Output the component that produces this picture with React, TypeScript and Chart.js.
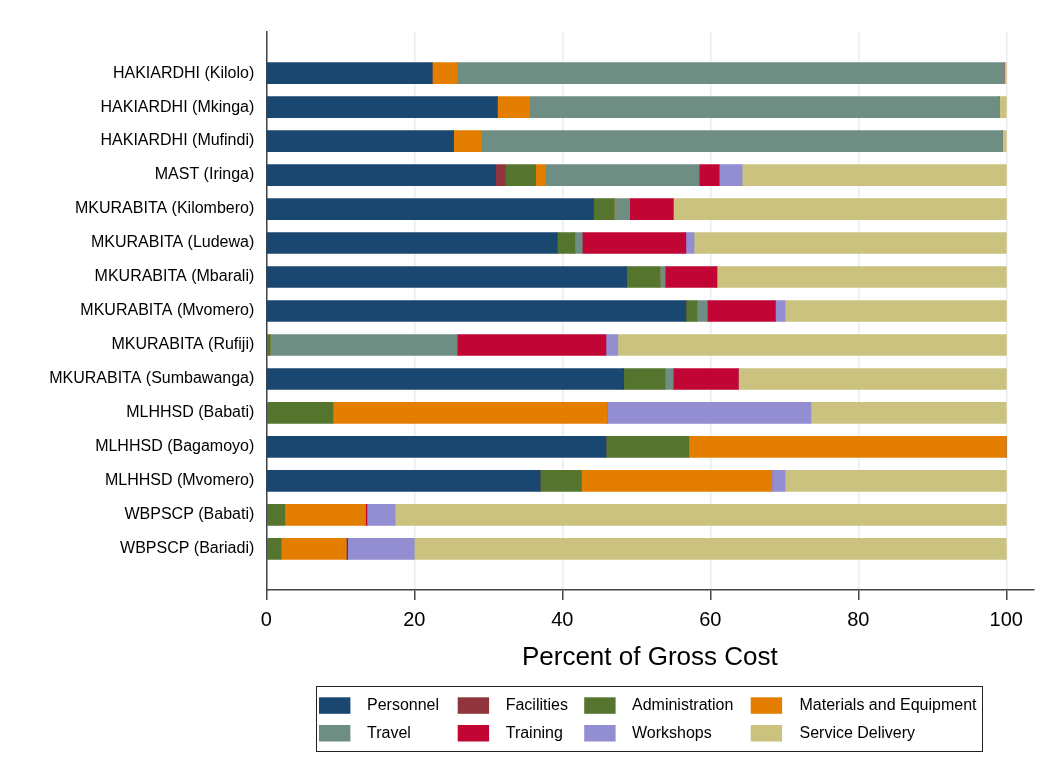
import React, { useEffect, useRef } from "react";
import { Chart, registerables } from "chart.js";

Chart.register(...registerables);

const categories = [
  "HAKIARDHI (Kilolo)",
  "HAKIARDHI (Mkinga)",
  "HAKIARDHI (Mufindi)",
  "MAST (Iringa)",
  "MKURABITA (Kilombero)",
  "MKURABITA (Ludewa)",
  "MKURABITA (Mbarali)",
  "MKURABITA (Mvomero)",
  "MKURABITA (Rufiji)",
  "MKURABITA (Sumbawanga)",
  "MLHHSD (Babati)",
  "MLHHSD (Bagamoyo)",
  "MLHHSD (Mvomero)",
  "WBPSCP (Babati)",
  "WBPSCP (Bariadi)",
];

const personnel = [22.4, 31.2, 25.3, 31.0, 44.2, 39.3, 48.7, 56.7, 0, 48.3, 0, 45.9, 37.0, 0, 0];
const facilities = [0, 0, 0, 1.3, 0, 0, 0, 0, 0, 0, 0, 0, 0, 0, 0];
const administration = [0, 0, 0, 4.1, 2.8, 2.4, 4.5, 1.5, 0.5, 5.6, 9.0, 11.2, 5.6, 2.5, 2.0];
const materials = [3.4, 4.4, 3.7, 1.3, 0, 0, 0, 0, 0, 0, 37.1, 42.9, 25.7, 10.9, 8.8];
const travel = [73.9, 63.5, 70.5, 20.8, 2.1, 1.0, 0.7, 1.4, 25.3, 1.1, 0, 0, 0, 0, 0];
const training = [0, 0, 0, 2.7, 5.9, 14.0, 7.0, 9.2, 20.1, 8.8, 0, 0, 0, 0.2, 0.2];
const workshops = [0, 0, 0, 3.1, 0, 1.1, 0, 1.3, 1.6, 0, 27.5, 0, 1.8, 3.8, 9.0];
const serviceDelivery = [0.3, 0.9, 0.5, 35.7, 45.0, 42.2, 39.1, 29.9, 52.5, 36.2, 26.4, 0, 29.9, 82.6, 80.0];

const seriesNames = [
  "Personnel",
  "Facilities",
  "Administration",
  "Materials and Equipment",
  "Travel",
  "Training",
  "Workshops",
  "Service Delivery",
];
const seriesColors = [
  "#1a476f",
  "#90353b",
  "#55752f",
  "#e37e00",
  "#6e8e84",
  "#c10534",
  "#938dd2",
  "#cac27e",
];
const xTickValues = [0, 20, 40, 60, 80, 100];
const axisTitle = "Percent of Gross Cost";

const FONT = "'Liberation Sans', Arial, Helvetica, sans-serif";
const AXIS_COLOR = "#444444";
const GRID_COLOR = "#e6eef0";

const X_MIN = 0;
const X_MAX = 103.65;
const Y_MIN = -1.21;
const Y_MAX = 15.21;

export default function App() {
  const ref = useRef<HTMLCanvasElement>(null);

  useEffect(() => {
    document.body.style.margin = "0";
    const series = [personnel, facilities, administration, materials, travel, training, workshops, serviceDelivery];
    const datasets = series.map((vals, k) => ({
      label: seriesNames[k],
      data: vals.map((v, i) => ({ x: v, y: i })),
      backgroundColor: seriesColors[k],
      borderWidth: 0,
      barThickness: 21,
    }));

    const legendPlugin = {
      id: "boxLegend",
      afterDraw(chart: any) {
        const ctx = chart.ctx;
        ctx.save();
        const boxL = 316.5, boxT = 686.5, boxW = 666, boxH = 65;
        ctx.strokeStyle = "#222222";
        ctx.lineWidth = 1;
        ctx.strokeRect(boxL, boxT, boxW, boxH);
        const swX = [319, 457.7, 584.2, 750.7];
        const txX = [367, 505.7, 632, 799.5];
        const swY = [697.3, 725];
        const txY = [705.5, 733.5];
        ctx.font = `16px ${FONT}`;
        ctx.textBaseline = "middle";
        ctx.textAlign = "left";
        chart.data.datasets.forEach((ds: any, k: number) => {
          const r = Math.floor(k / 4);
          const c = k % 4;
          ctx.fillStyle = ds.backgroundColor;
          ctx.fillRect(swX[c], swY[r], 31.4, 16.5);
          ctx.fillStyle = "#000000";
          ctx.fillText(ds.label, txX[c], txY[r]);
        });
        ctx.restore();
      },
    };

    const chart = new Chart(ref.current as HTMLCanvasElement, {
      type: "bar",
      data: { datasets: datasets as any },
      options: {
        indexAxis: "y",
        animation: false,
        responsive: false,
        maintainAspectRatio: false,
        layout: { padding: { top: 32, right: 14.7, left: 0, bottom: 0 } },
        plugins: { legend: { display: false }, tooltip: { enabled: false } },
        scales: {
          x: {
            type: "linear",
            stacked: true,
            offset: false,
            min: X_MIN,
            max: X_MAX,
            afterBuildTicks: (ax: any) => {
              ax.ticks = xTickValues.map((v) => ({ value: v }));
              ax.min = X_MIN;
              ax.max = X_MAX;
            },
            afterFit: (ax: any) => {
              ax.height = 180;
            },
            grid: {
              color: GRID_COLOR,
              lineWidth: 1.5,
              tickColor: AXIS_COLOR,
              tickLength: 10,
              tickWidth: 1.5,
              offset: false,
            },
            border: { display: true, color: AXIS_COLOR, width: 1.5 },
            ticks: {
              font: { family: FONT, size: 20 },
              color: "#000000",
              padding: 8,
              maxRotation: 0,
            },
            title: {
              display: true,
              text: axisTitle,
              font: { family: FONT, size: 26 },
              color: "#000000",
              padding: { top: 0, bottom: 97 },
            },
          },
          y: {
            type: "linear",
            stacked: true,
            reverse: true,
            offset: false,
            min: Y_MIN,
            max: Y_MAX,
            afterBuildTicks: (ax: any) => {
              ax.ticks = categories.map((_, i) => ({ value: i }));
              ax.min = Y_MIN;
              ax.max = Y_MAX;
            },
            afterFit: (ax: any) => {
              ax.width = 266.3;
            },
            grid: { display: false, drawTicks: false, offset: false },
            border: { display: true, color: AXIS_COLOR, width: 1.5 },
            ticks: {
              autoSkip: false,
              callback: (v: any) => categories[v as number] ?? "",
              font: { family: FONT, size: 16 },
              color: "#000000",
              padding: 12,
            },
          },
        },
      } as any,
      plugins: [legendPlugin],
    });
    return () => chart.destroy();
  }, []);

  return (
    <div style={{ position: "absolute", left: 0, top: 0, width: 1048, height: 770, background: "#ffffff" }}>
      <canvas ref={ref} width={1048} height={770} style={{ width: 1048, height: 770, display: "block" }} />
    </div>
  );
}
